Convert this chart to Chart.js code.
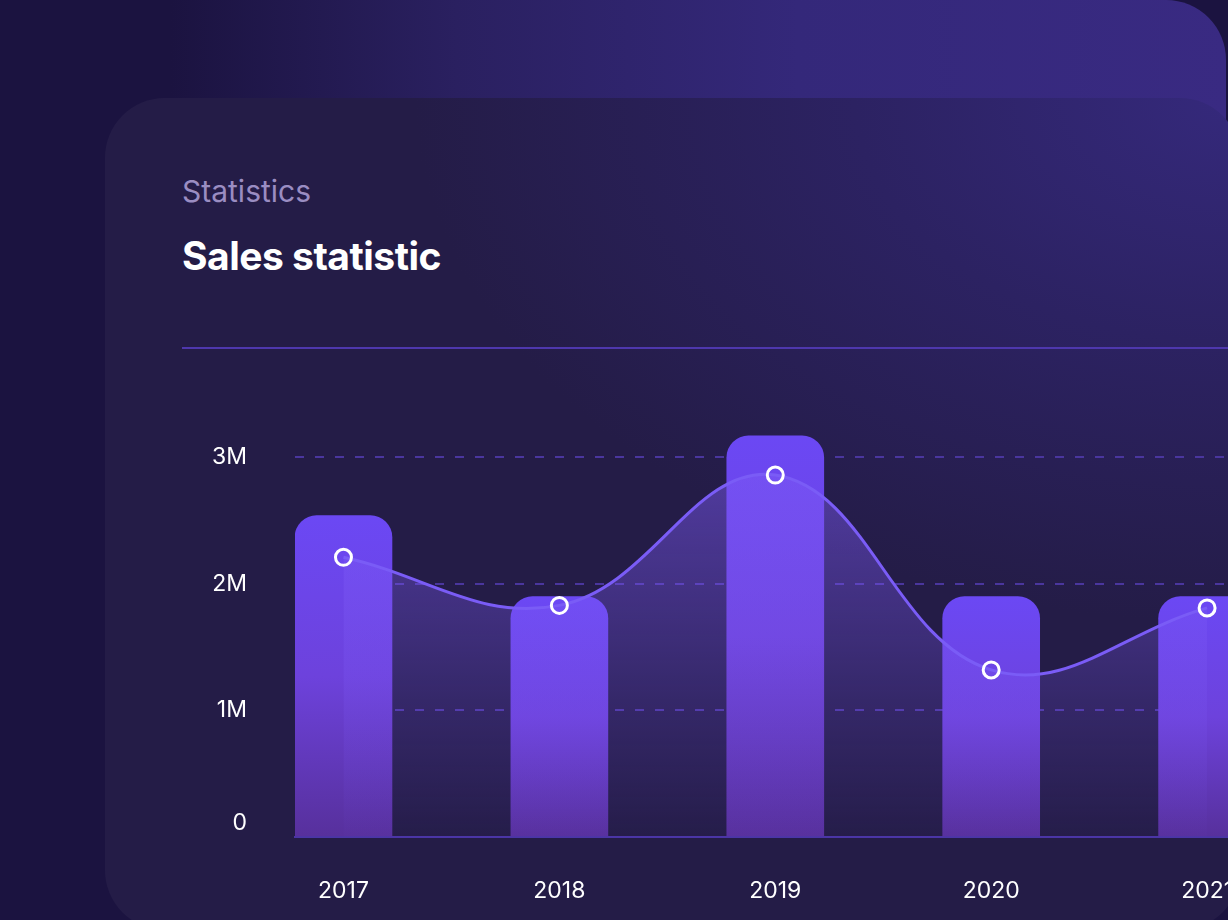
<!DOCTYPE html>
<html>
<head>
<meta charset="utf-8">
<script src="https://cdn.jsdelivr.net/npm/chart.js@4/dist/chart.umd.min.js"></script>
<style>
  html, body {
    margin: 0;
    padding: 0;
    width: 1228px;
    height: 920px;
    overflow: hidden;
    background: #1b1340;
    font-family: Inter, "Noto Sans", sans-serif;
  }
  .back-card {
    position: absolute;
    left: -200px;
    top: 0;
    width: 1426px;
    height: 900px;
    border-top-right-radius: 60px;
    background: linear-gradient(90deg, #1b1340 26%, #2a2060 46%, #34287a 70%, #392a82 100%);
  }
  .front-card {
    position: absolute;
    left: 105px;
    top: 98px;
    width: 1135px;
    height: 832px;
    border-radius: 60px;
    background: radial-gradient(ellipse 1100px 700px at 100% 0%, #35297c 0%, #2c2262 35%, #241c47 75%);
  }
  .subtitle {
    position: absolute;
    left: 182px;
    top: 173px;
    font-size: 30px;
    font-weight: 400;
    color: #9a8dc2;
    line-height: 36px;
  }
  .title {
    position: absolute;
    left: 182px;
    top: 233px;
    font-size: 39px;
    font-weight: 700;
    color: #ffffff;
    letter-spacing: -0.5px;
    line-height: 46px;
  }
  .divider {
    position: absolute;
    left: 182px;
    top: 347px;
    width: 1060px;
    height: 2px;
    background: #4e37ad;
  }
  #chart {
    position: absolute;
    left: 182px;
    top: 400px;
  }
</style>
</head>
<body>
<div class="back-card"></div>
<div class="front-card"></div>
<div class="subtitle">Statistics</div>
<div class="title">Sales statistic</div>
<div class="divider"></div>
<canvas id="chart" width="1100" height="520"></canvas>

<script>
/* ======================
   DATA
====================== */
const years = [2017, 2018, 2019, 2020, 2021];
const barValues = [2540000, 1900000, 3170000, 1900000, 1900000];
const lineValues = [2210000, 1830000, 2860000, 1320000, 1810000];
const yTickValues = [0, 1000000, 2000000, 3000000];

/* ---------- helpers ---------- */
function tickLabel(v) {
  // the zero label sits a little higher than its gridline in the design
  return v === 0 ? ["0", ""] : (v / 1000000) + "M";
}

function barGradient(context) {
  const chart = context.chart;
  if (!chart.chartArea || context.raw == null) return "#6b48f4";
  const yScale = chart.scales.y;
  const top = yScale.getPixelForValue(context.raw.y);
  const bottom = yScale.getPixelForValue(0);
  const g = chart.ctx.createLinearGradient(0, top, 0, bottom);
  g.addColorStop(0, "#6b48f4");
  g.addColorStop(0.5, "#6d42dc");
  g.addColorStop(1, "#57309c");
  return g;
}

function areaGradient(context) {
  const chart = context.chart;
  const area = chart.chartArea;
  if (!area) return "rgba(125, 90, 245, 0.3)";
  const g = chart.ctx.createLinearGradient(0, area.top + 40, 0, area.bottom);
  g.addColorStop(0, "rgba(125, 90, 245, 0.5)");
  g.addColorStop(1, "rgba(125, 90, 245, 0.02)");
  return g;
}

// keep the tick padding from pushing the chart area around
function noScalePadding(scale) {
  scale.paddingTop = 0;
  scale.paddingBottom = 0;
  scale.paddingLeft = 0;
  scale.paddingRight = 0;
}

/* ======================
   CHART
====================== */
document.addEventListener("DOMContentLoaded", () => {
  Chart.defaults.font.family = "Inter";
  Chart.defaults.color = "#ffffff";

  new Chart(document.getElementById("chart"), {
    data: {
      datasets: [
        {
          type: "line",
          order: 0,
          data: years.map((y, i) => ({ x: y, y: lineValues[i] })),
          borderColor: "#7a5cf6",
          borderWidth: 3,
          tension: 0.4,
          fill: "origin",
          backgroundColor: areaGradient,
          pointRadius: 8,
          pointBorderWidth: 3,
          pointBorderColor: "#ffffff",
          pointBackgroundColor: "transparent",
          clip: false
        },
        {
          type: "bar",
          order: 1,
          data: years.map((y, i) => ({ x: y, y: barValues[i] })),
          backgroundColor: barGradient,
          barThickness: 97,
          borderRadius: { topLeft: 22, topRight: 22 },
          borderSkipped: "bottom"
        }
      ]
    },
    options: {
      responsive: false,
      animation: false,
      devicePixelRatio: 1,
      layout: { padding: { top: 32, right: 0, bottom: 0, left: 0 } },
      plugins: {
        legend: { display: false },
        tooltip: { enabled: false }
      },
      scales: {
        x: {
          type: "linear",
          offset: false,
          min: 2016.7755,
          max: 2021.296,
          z: 1,
          afterFit: scale => {
            scale.height = 83;
            noScalePadding(scale);
          },
          grid: { display: false, drawTicks: false },
          border: { display: true, color: "#4a35a6", width: 2 },
          ticks: {
            stepSize: 1,
            includeBounds: false,
            padding: 40,
            color: "#ffffff",
            font: { size: 23, family: "Inter" },
            callback: v => String(v)
          }
        },
        y: {
          min: 0,
          max: 3200000,
          afterFit: scale => {
            scale.width = 113;
            noScalePadding(scale);
          },
          afterBuildTicks: scale => {
            scale.ticks = yTickValues.map(v => ({ value: v }));
          },
          grid: {
            drawTicks: false,
            lineWidth: 2,
            color: ctx => (ctx.tick && ctx.tick.value === 0) ? "transparent" : "#4a369e"
          },
          border: { display: false, dash: [9, 11] },
          ticks: {
            padding: 48,
            color: "#ffffff",
            font: { size: 23, family: "Inter" },
            callback: v => tickLabel(v)
          }
        }
      }
    }
  });
});
</script>
</body>
</html>
